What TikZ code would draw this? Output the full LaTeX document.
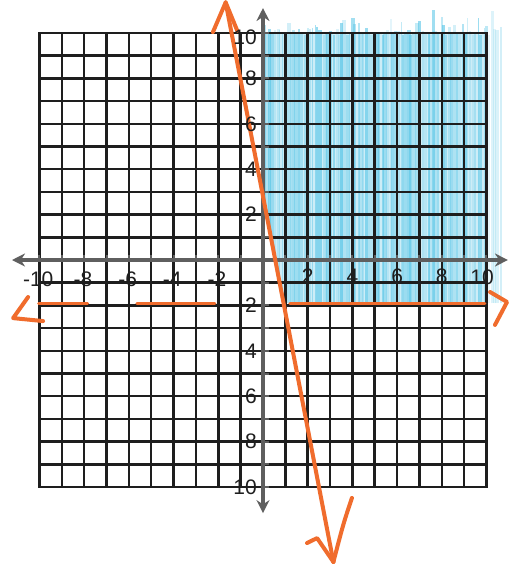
\documentclass[tikz,border=0pt]{standalone}
\usepackage{fontspec}
\setmainfont{Liberation Sans}
\usetikzlibrary{arrows.meta}
\definecolor{gridc}{RGB}{30,30,30}
\definecolor{axisc}{RGB}{95,95,95}
\definecolor{orng}{RGB}{240,108,45}
\definecolor{bluebase}{RGB}{205,237,247}
\definecolor{bluestreak}{RGB}{80,195,230}
\begin{document}
\begin{tikzpicture}[x=22.35pt,y=22.7pt,
  gridline/.style={gridc,line width=2.5pt,line cap=rect},
  axisline/.style={axisc,line width=3.8pt},
  orangeline/.style={orng,line width=4pt,line cap=round,line join=round},
  dashseg/.style={orng,line width=3pt,line cap=round},
  lbl/.style={font=\fontsize{21}{21}\selectfont,inner sep=0pt,text=gridc}]
\useasboundingbox[fill=white] (-11.767,-13.48) rectangle (11.051,11.454);

% shading of the solution region
\fill[bluebase] (0,10) -- (0,3) -- (0.98,-1.9) -- (10,-1.9) -- (10,10) -- cycle;
\begin{scope}
  \clip (0,11.3) -- (0,3) -- (0.98,-1.9) -- (10.75,-1.9) -- (10.75,11.3) -- cycle;
  \pgfmathsetseed{11}
  \foreach \i in {0,...,88} {
    \pgfmathsetmacro\xx{0.05+\i*0.12+0.04*rand}
    \pgfmathsetmacro\yt{9.9+1.3*rnd*rnd}
    \pgfmathsetmacro\ww{1.5+2.5*rnd}
    \pgfmathsetmacro\op{\xx>10 ? 0.1+0.2*rnd : 0.15+0.45*rnd}
    \draw[bluestreak,line width=\ww pt,opacity=\op] (\xx,-1.9) -- (\xx,\yt);
  }
\end{scope}

% grid
\foreach \k in {-10,...,10} {
  \draw[gridline] (\k,-10) -- (\k,10);
  \draw[gridline] (-10,\k) -- (10,\k);
}

% axes
\coordinate (xl) at (-11.23,0);
\coordinate (xr) at (10.96,0);
\coordinate (yt) at (0,11.1);
\coordinate (yb) at (0,-11.15);
\draw[axisline,{Stealth[length=13pt,width=13pt]}-{Stealth[length=13pt,width=13pt]}] (xl) -- (xr);
\draw[axisline,{Stealth[length=13pt,width=13pt]}-{Stealth[length=13pt,width=13pt]}] (yb) -- (yt);
\foreach \k in {-10,...,10} {
  \draw[axisc,line width=2pt] (\k,-0.05) -- (\k,0.2);
  \draw[axisc,line width=2pt] (-0.05,\k) -- (0.25,\k);
}

% boundary line y = -5x + 3
\coordinate (ltop) at (-1.67,11.35);
\coordinate (lbot) at (3.15,-13.3);
\draw[orangeline] (ltop) -- (lbot);
\draw[orangeline] (-2.24,10.04) -- (ltop) -- (-1.15,10.1);
\draw[orangeline] (1.97,-12.47) -- (2.42,-12.25) -- (lbot);
\draw[orangeline] (3.98,-10.48) .. controls (3.6,-11.6) .. (lbot);

% boundary line y = -2
\draw[dashseg] (-10.04,-1.9) -- (-7.85,-1.9);
\draw[dashseg] (-5.64,-1.9) -- (-2.15,-1.9);
\draw[dashseg] (1.2,-1.9) -- (9.93,-1.9);
\draw[orangeline] (-10.51,-1.63) -- (-11.18,-2.56) -- (-9.84,-2.69);
\draw[orangeline] (10.16,-1.41) -- (10.92,-1.85) -- (10.38,-2.86);

% labels
\foreach \k/\t in {-10/10,-8/8,-6/6,-4/4,-2/2}
  \node[lbl] (xn\t) at (\k+0.1,-0.85) {\llap{-}\t};
\foreach \k in {2,4,6,8}
  \node[lbl] (xp\k) at (\k,-0.72) {\k};
\node[lbl] (xp10) at (9.8,-0.75) {10};
\foreach \k/\t/\n in {9.8/10/a,8/8/b,6/6/c,4/4/d,2/2/e,-2/2/f,-4/4/g,-6/6/h,-8/8/i,-10/10/j}
  \node[lbl,anchor=east] (yl\n) at (-0.27,\k) {\t};
\end{tikzpicture}
\end{document}
